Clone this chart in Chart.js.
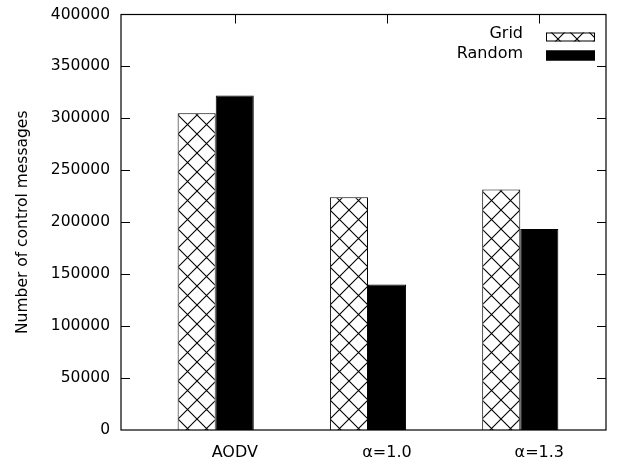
<!DOCTYPE html>
<html lang="en">
<head>
  <meta charset="UTF-8">
  <title>Number of control messages</title>
  <script src="https://cdn.jsdelivr.net/npm/chart.js"></script>
  <style>
    html, body { margin: 0; padding: 0; background: #fff; }
    .chart-box { width: 622px; height: 466px; position: relative; }
  </style>
</head>
<body>
  <div class="chart-box"><canvas id="controlChart"></canvas></div>
  <script>
    // Chart data
    const categories = ['AODV', 'α=1.0', 'α=1.3'];
    const gridValues = [305000, 224000, 231500];
    const randomValues = [322000, 140000, 193500];
    const yTicks = [0, 50000, 100000, 150000, 200000, 250000, 300000, 350000, 400000];
    const seriesNames = ['Grid', 'Random'];

    const FONT = 'DejaVu Sans, Verdana, sans-serif';
    const canvas = document.getElementById('controlChart');
    const ctx = canvas.getContext('2d');

    // crosshatch fill like gnuplot pattern
    function makeHatch() {
      const size = 19;
      const c = document.createElement('canvas');
      c.width = size;
      c.height = size;
      const g = c.getContext('2d');
      g.fillStyle = '#fff';
      g.fillRect(0, 0, size, size);
      g.strokeStyle = '#000';
      g.lineWidth = 1.1;
      g.beginPath();
      g.moveTo(-1, -1); g.lineTo(size + 1, size + 1);
      g.moveTo(size + 1, -1); g.lineTo(-1, size + 1);
      g.stroke();
      const p = ctx.createPattern(c, 'repeat');
      p.setTransform(new DOMMatrix().translate(7, 1));
      return p;
    }
    const hatch = makeHatch();

    // frame, inward ticks and the key
    const gnuplotFrame = {
      id: 'gnuplotFrame',
      afterDatasetsDraw(chart) {
        const { ctx, chartArea: a, scales } = chart;
        ctx.save();
        ctx.strokeStyle = '#000';
        ctx.lineWidth = 1;
        ctx.beginPath();
        yTicks.forEach(v => {
          if (v === yTicks[0] || v === yTicks[yTicks.length - 1]) return;
          const y = Math.round(scales.y.getPixelForValue(v)) + 0.5;
          ctx.moveTo(a.left, y); ctx.lineTo(a.left + 9, y);
          ctx.moveTo(a.right, y); ctx.lineTo(a.right - 9, y);
        });
        scales.x.ticks.forEach(t => {
          const x = Math.round(scales.x.getPixelForValue(t.value)) + 0.5;
          ctx.moveTo(x, a.top); ctx.lineTo(x, a.top + 9);
        });
        ctx.stroke();
        ctx.lineWidth = 1.2;
        ctx.strokeRect(a.left, a.top, a.right - a.left, a.bottom - a.top);

        // key
        ctx.font = '16px ' + FONT;
        ctx.fillStyle = '#000';
        ctx.textAlign = 'right';
        ctx.textBaseline = 'middle';
        const keyRows = [{ text: 34, box: 32.5, h: 9 }, { text: 54, box: 50.5, h: 10 }];
        chart.data.datasets.forEach((ds, i) => {
          const row = keyRows[i];
          ctx.fillStyle = '#000';
          ctx.fillText(ds.label, 523, row.text);
          ctx.fillStyle = ds.backgroundColor;
          ctx.fillRect(546, row.box, 49, row.h);
          ctx.lineWidth = 1;
          ctx.strokeRect(546.5, row.box + 0.5, 48, row.h - 1);
        });
        ctx.restore();
      }
    };

    new Chart(ctx, {
      type: 'bar',
      data: {
        datasets: [
          {
            label: seriesNames[0],
            data: gridValues.map((v, i) => ({ x: i, y: v })),
            backgroundColor: hatch,
            borderColor: '#000',
            borderWidth: 1
          },
          {
            label: seriesNames[1],
            data: randomValues.map((v, i) => ({ x: i, y: v })),
            backgroundColor: '#000',
            borderColor: '#000',
            borderWidth: 1
          }
        ]
      },
      plugins: [gnuplotFrame],
      options: {
        responsive: true,
        maintainAspectRatio: false,
        animation: false,
        categoryPercentage: 0.5,
        barPercentage: 1.0,
        layout: { padding: { top: 14.5, right: 16, left: 0, bottom: 0 } },
        plugins: {
          legend: { display: false },
          tooltip: { enabled: false }
        },
        scales: {
          x: {
            type: 'linear',
            min: -0.622,
            max: 2.563,
            offset: false,
            grid: { display: false, drawTicks: false },
            border: { display: false },
            afterBuildTicks(scale) {
              // labels sit under the second bar of each group
              scale.ticks = categories.map((c, i) => ({ value: i + 0.125 }));
            },
            afterFit(scale) { scale.height = 36; },
            ticks: {
              maxRotation: 0,
              autoSkip: false,
              padding: 13,
              color: '#000',
              font: { family: FONT, size: 16 },
              callback: (v, i) => categories[i]
            }
          },
          y: {
            min: 0,
            max: 400000,
            grid: { display: false, drawTicks: true, tickLength: 11 },
            border: { display: false },
            afterBuildTicks(scale) {
              scale.ticks = yTicks.map(v => ({ value: v }));
            },
            afterFit(scale) { scale.width = 121; },
            ticks: {
              padding: 0,
              color: '#000',
              font: { family: FONT, size: 15.5 },
              callback: v => String(v)
            },
            title: {
              display: true,
              text: 'Number of control messages',
              color: '#000',
              padding: { top: 14, bottom: 0 },
              font: { family: FONT, size: 15.5 }
            }
          }
        }
      }
    });
  </script>
</body>
</html>
